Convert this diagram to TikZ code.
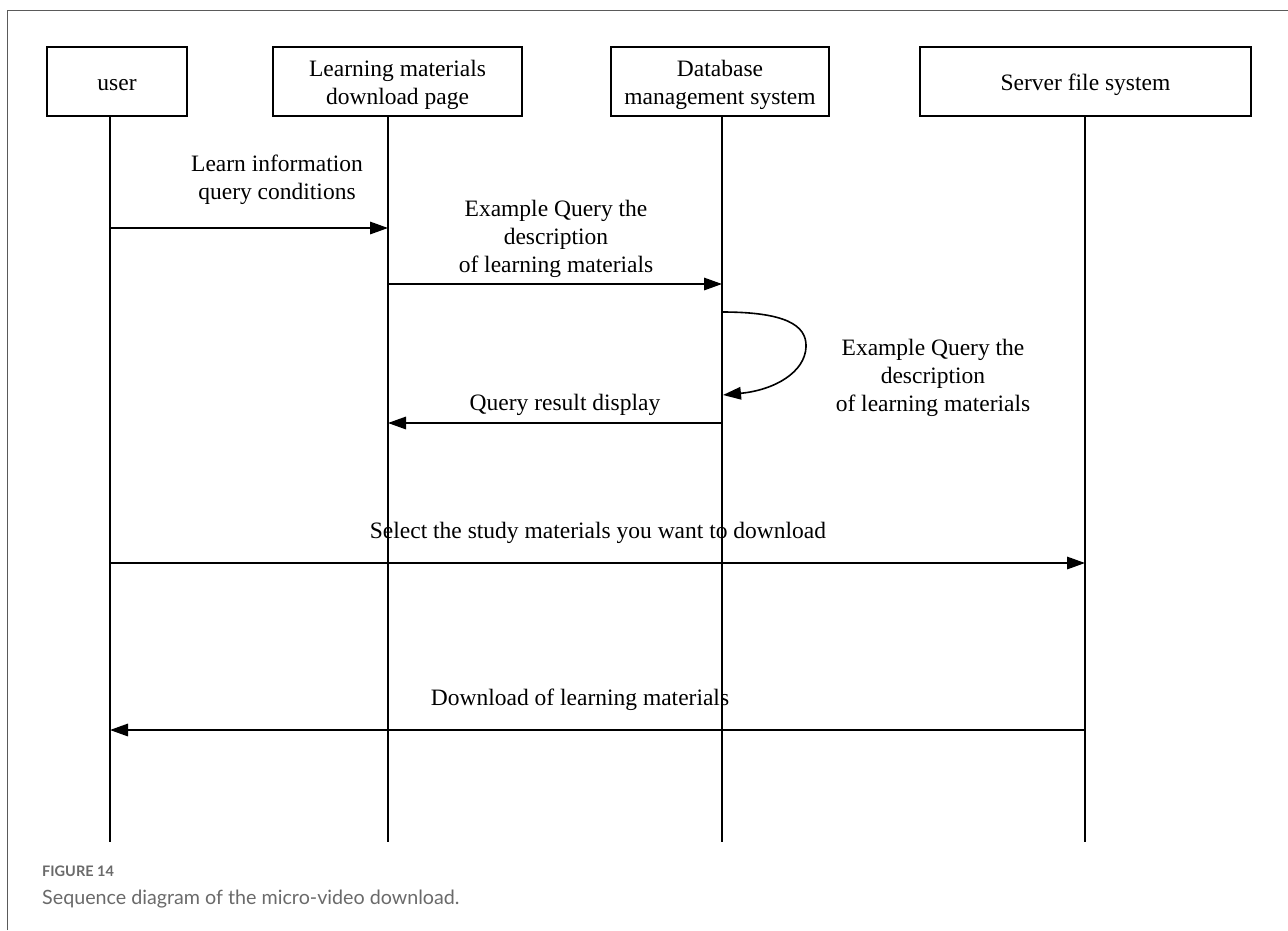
\documentclass[tikz,border=0pt]{standalone}
\usepackage{fontspec}
\setmainfont{Liberation Serif}
\newfontfamily\capfont{Lato}
\usetikzlibrary{arrows.meta}
\definecolor{capgray}{HTML}{6A6A6A}
\definecolor{framegray}{HTML}{5A5A5A}
\newcommand{\boxtext}[1]{\raisebox{-3pt}[\height][\depth]{\begin{tabular}{@{}c@{}}#1\end{tabular}}}
\tikzset{
  actor/.style={draw, line width=1.7pt, minimum height=69pt, inner sep=0pt, align=center, font=\fontsize{23.5}{28}\selectfont},
  life/.style={line width=1.6pt},
  msg/.style={line width=1.6pt, -{Triangle[length=18pt,width=12.5pt]}},
  lbl/.style={align=center, font=\fontsize{23.5}{28}\selectfont, inner sep=0pt},
}
\begin{document}
\begin{tikzpicture}[x=1pt,y=-1pt]
\useasboundingbox (0,0) rectangle (1288,930);
% frame
\draw[framegray, line width=1.8pt] (7.5,930) -- (7.5,10.5) -- (1288,10.5);
% actors
\node[actor, minimum width=140pt] (user) at (117,81.5) {\boxtext{user}};
\node[actor, minimum width=249pt] (page) at (397.5,81.5) {\boxtext{Learning materials\\download page}};
\node[actor, minimum width=218pt] (dbms) at (720,81.5) {\boxtext{Database\\management system}};
\node[actor, minimum width=331pt] (srv) at (1085.5,81.5) {\boxtext{Server file system}};
% lifeline coordinates
\coordinate (uT) at (110,116); \coordinate (uB) at (110,842);
\coordinate (pT) at (388,116); \coordinate (pB) at (388,842);
\coordinate (dT) at (722,116); \coordinate (dB) at (722,842);
\coordinate (sT) at (1085,116); \coordinate (sB) at (1085,842);
\draw[life] (uT) -- (uB);
\draw[life] (pT) -- (pB);
\draw[life] (dT) -- (dB);
\draw[life] (sT) -- (sB);
% message endpoints
\coordinate (m1a) at (110,228); \coordinate (m1b) at (388,228);
\coordinate (m2a) at (388,284); \coordinate (m2b) at (722,284);
\coordinate (m3a) at (722,312); \coordinate (m3m) at (806,347); \coordinate (m3b) at (723,395);
\coordinate (m4a) at (722,423); \coordinate (m4b) at (388,423);
\coordinate (m5a) at (110,563); \coordinate (m5b) at (1085,563);
\coordinate (m6a) at (1085,730); \coordinate (m6b) at (110,730);
% messages
\draw[msg] (m1a) -- (m1b);
\node[lbl] (l1) at (277,180) {Learn information\\query conditions};
\draw[msg] (m2a) -- (m2b);
\node[lbl] (l2) at (556,238.5) {Example Query the\\description\\of learning materials};
\draw[msg] (m3a) .. controls (785,312) and (807,325) .. (m3m) .. controls (805,372) and (775,390) .. (m3b);
\node[lbl] (l3) at (933,377.5) {Example Query the\\description\\of learning materials};
\draw[msg] (m4a) -- (m4b);
\node[lbl] (l4) at (565,405) {Query result display};
\draw[msg] (m5a) -- (m5b);
\node[lbl] (l5) at (598,533) {Select the study materials you want to download};
\draw[msg] (m6a) -- (m6b);
\node[lbl] (l6) at (580,700) {Download of learning materials};
% caption
\node[anchor=base west, inner sep=0pt, text=capgray, font=\capfont\bfseries\fontsize{14.5}{17}\selectfont] (fig) at (42,876) {FIGURE 14};
\node[anchor=base west, inner sep=0pt, text=capgray, font=\capfont\fontsize{19.7}{22}\selectfont] (cap) at (42,904) {Sequence diagram of the micro-video download.};
\end{tikzpicture}
\end{document}
